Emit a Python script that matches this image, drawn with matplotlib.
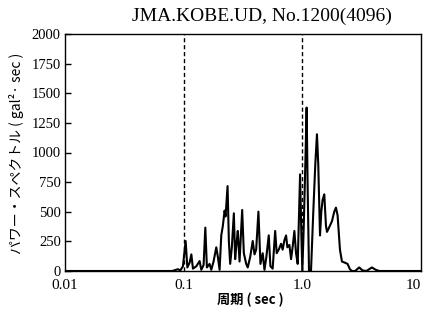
import matplotlib
matplotlib.use("Agg")
import matplotlib.pyplot as plt

# Period (sec) and power spectrum (gal^2*sec)
period = [0.01, 0.08, 0.0895, 0.0938, 0.0986, 0.1039, 0.1074, 0.1122, 0.1161, 0.1197,
          0.1279, 0.1362, 0.1408, 0.1472, 0.1522, 0.1570, 0.1652, 0.1709, 0.1786, 0.1883,
          0.1941, 0.2008, 0.2074, 0.2138, 0.2213, 0.2254, 0.2344, 0.2404, 0.2466, 0.2547,
          0.2648, 0.2716, 0.2787, 0.2858, 0.2958, 0.3112, 0.3214, 0.3365, 0.3467, 0.3638,
          0.3819, 0.3954, 0.4083, 0.4266, 0.4436, 0.4634, 0.4797, 0.4977, 0.5212, 0.5383,
          0.5623, 0.5902, 0.6081, 0.6324, 0.6622, 0.6823, 0.7063, 0.7295, 0.7482, 0.7780,
          0.8035, 0.8279, 0.8570, 0.8851, 0.9141, 0.9572, 0.9817, 1.000, 1.026, 1.060,
          1.087, 1.109, 1.138, 1.183, 1.237, 1.286, 1.328, 1.362, 1.409, 1.445,
          1.482, 1.531, 1.582, 1.614, 1.686, 1.777, 1.857, 1.920, 1.982, 2.075,
          2.157, 2.286, 2.405, 2.518, 2.618, 2.788, 3.013, 3.212, 3.468, 3.852,
          4.16, 4.44, 10.0]
power = [0, 0, 15, 5, 40, 253, 30, 70, 140, 20,
         40, 84, 10, 50, 366, 30, 60, 10, 80, 200,
         120, 10, 300, 380, 510, 460, 717, 250, 60, 200,
         487, 100, 230, 338, 80, 515, 150, 60, 30, 120,
         253, 140, 180, 501, 60, 150, 10, 120, 301, 40,
         20, 338, 150, 180, 230, 180, 260, 300, 200, 220,
         100, 200, 338, 150, 60, 816, 300, 0, 350, 900,
         1379, 700, 0, 0, 500, 900, 1154, 900, 300, 500,
         600, 647, 380, 330, 370, 420, 500, 535, 470, 180,
         80, 70, 60, 15, 0, 0, 30, 5, 0, 30,
         10, 0, 0]

marker_periods = [0.1, 1.0]
xticks = [0.01, 0.1, 1.0, 10]
xticklabels = ["0.01", "0.1", "1.0", "10"]
yticks = [0, 250, 500, 750, 1000, 1250, 1500, 1750, 2000]

title = "JMA.KOBE.UD, No.1200(4096)"
xlabel = "周期 ( sec )"
ylabel = "パワー・スペクトル ( gal²· sec )"

serif = ["Liberation Serif", "DejaVu Serif"]
cjk = ["Noto Sans CJK JP", "DejaVu Sans"]

fig = plt.figure(figsize=(4.23, 3.22), dpi=100)
ax = fig.add_axes([65/423, 1-271/322, (421-65)/423, (271-34)/322])

ax.plot(period, power, color="black", lw=1.5)
for p in marker_periods:
    ax.axvline(p, color="black", lw=1.0, ls=(0, (3, 2)))

ax.set_xscale("log")
ax.set_xlim(0.01, 10)
ax.set_ylim(0, 2000)
ax.set_xticks(xticks)
ax.set_xticklabels(xticklabels, fontfamily=serif, fontsize=11)
ax.get_xticklabels()[-1].set_horizontalalignment("right")
ax.minorticks_off()
ax.set_yticks(yticks)
ax.set_yticklabels([str(v) for v in yticks], fontfamily=serif, fontsize=10.5)
ax.tick_params(axis="both", direction="in", length=4, width=1, pad=3)
ax.tick_params(axis="x", length=0, pad=6)
for s in ax.spines.values():
    s.set_linewidth(1.0)

fig.text(262/423, 1-16/322, title, ha="center", va="center", fontfamily=serif, fontsize=14)
fig.text(250/423, 1-300/322, xlabel, ha="center", va="center", fontfamily=cjk, fontsize=9.5, fontweight="bold")
fig.text(17/423, 1-153/322, ylabel, ha="center", va="center", rotation=90, fontfamily=cjk, fontsize=10)

fig.savefig("out.png", dpi=100, facecolor="white")
